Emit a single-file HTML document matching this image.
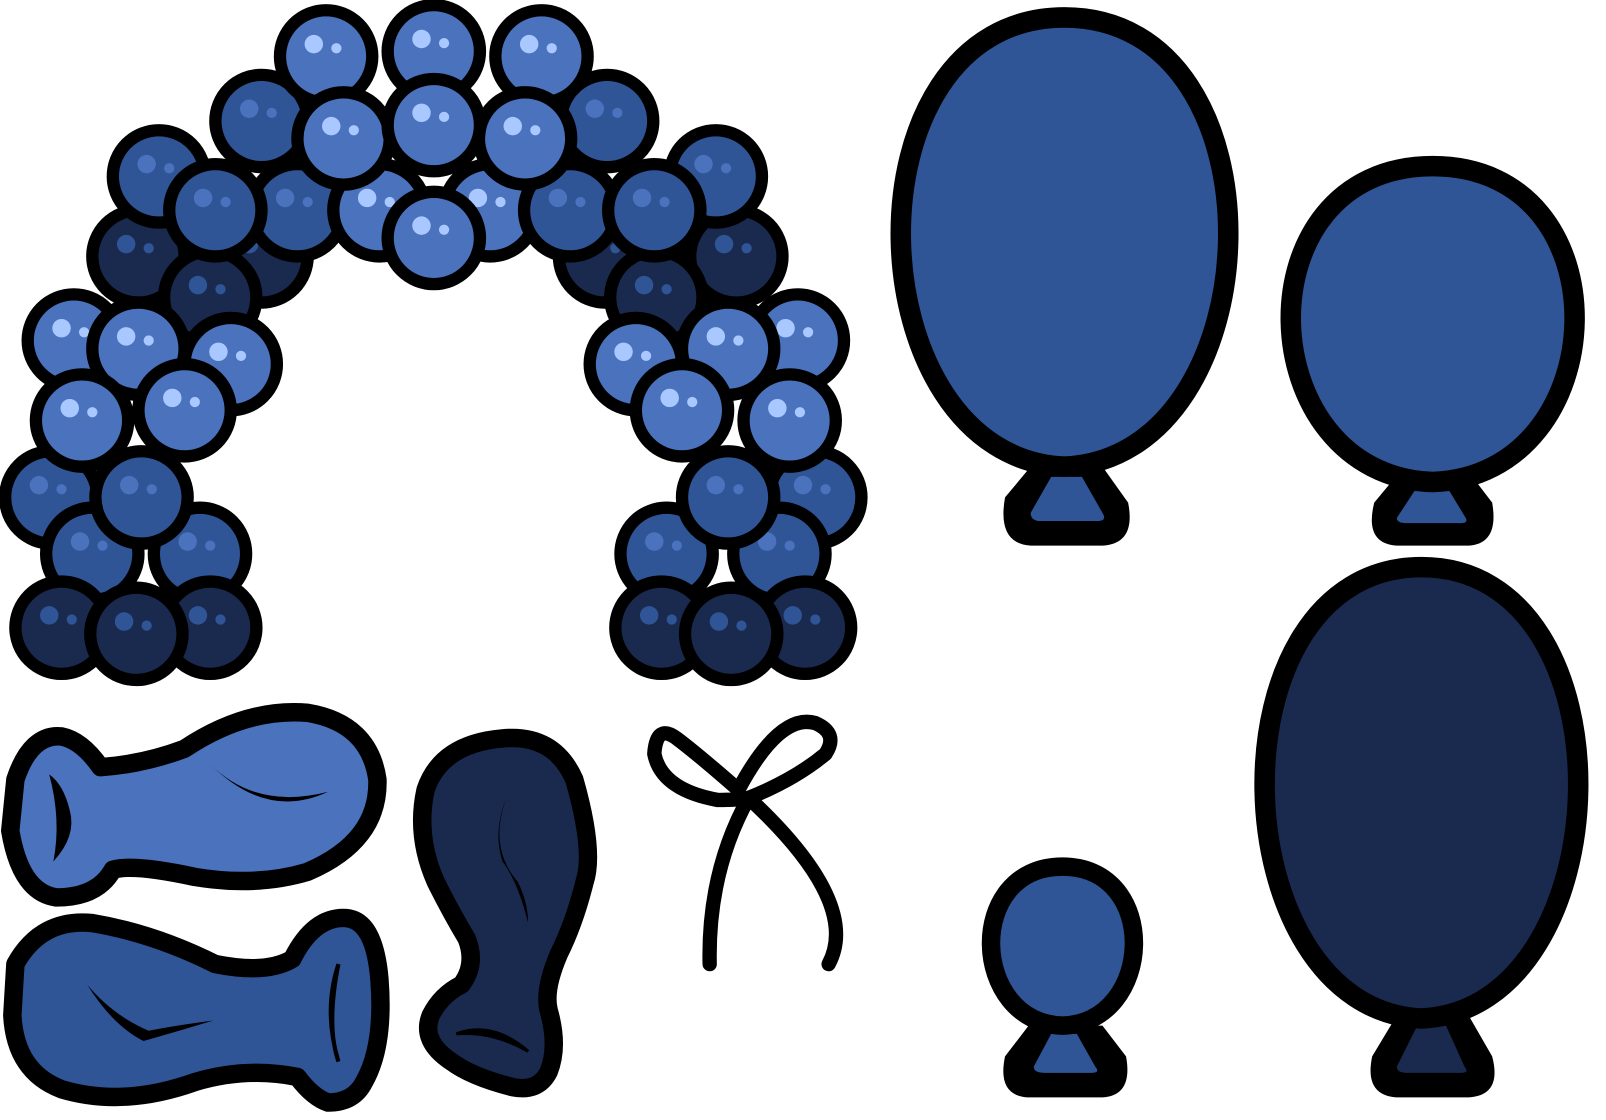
<!DOCTYPE html>
<html><head><meta charset="utf-8"><style>
html,body{margin:0;padding:0;background:#fff;width:1606px;height:1120px;overflow:hidden}
svg{display:block}
</style></head><body>
<svg id="art" width="1606" height="1120" viewBox="0 0 1566 1092" preserveAspectRatio="none">
<g id="arch"></g>

<g>
<path d="M1005,455 L980,485 Q972,530 1005,532 L1075,532 Q1108,530 1100,490 L1075,455 Z" fill="#000"/>
<path d="M1025,465 L1005,500 Q1005,508 1015,508 L1070,508 Q1080,508 1075,500 L1055,465 Z" fill="#2f5597"/>
<path id="egg1" fill="#2f5597" stroke="#000" stroke-width="20"/>
</g>
<g>
<path d="M1365,460 L1340,490 Q1330,530 1362,532 L1432,532 Q1462,530 1455,490 L1432,460 Z" fill="#000"/>
<path d="M1385,470 L1362,505 Q1362,510 1372,510 L1425,510 Q1433,510 1428,503 L1408,470 Z" fill="#2f5597"/>
<path id="egg2" fill="#2f5597" stroke="#000" stroke-width="20"/>
</g>
<g>
<path d="M1362,990 L1338,1030 Q1330,1068 1362,1070 L1432,1070 Q1465,1068 1455,1030 L1432,990 Z" fill="#000"/>
<path d="M1382,1000 L1362,1040 Q1362,1046 1372,1046 L1425,1046 Q1433,1046 1428,1040 L1410,1000 Z" fill="#1a2a4f"/>
<path id="egg3" fill="#1a2a4f" stroke="#000" stroke-width="20"/>
</g>
<g>
<path d="M1003,1000 L980,1030 Q972,1068 1002,1070 L1075,1070 Q1105,1068 1098,1030 L1075,1000 Z" fill="#000"/>
<path d="M1025,1008 L1008,1040 Q1008,1046 1018,1046 L1065,1046 Q1073,1046 1068,1040 L1050,1008 Z" fill="#2f5597"/>
<path id="egg4" fill="#2f5597" stroke="#000" stroke-width="18"/>
</g>

<g>
<path d="M15,760 Q30,715 60,718 Q80,722 98,748 Q140,745 180,730 Q240,690 300,695 Q360,705 368,760 Q370,820 300,850 Q250,865 190,855 Q130,842 110,848 Q95,875 55,875 Q20,870 10,810 Z" fill="#4a72bd" stroke="#000" stroke-width="18" stroke-linejoin="round"/>
<path d="M48,755 Q60,800 52,840 Q75,815 68,790 Q62,765 48,755 Z" fill="#000"/>
<path d="M205,745 Q250,790 320,772 Q260,800 205,745 Z" fill="#000"/>
</g>
<g>
<path d="M15,940 Q40,895 90,900 Q150,910 210,940 Q260,950 285,935 Q305,895 335,895 Q365,895 370,955 Q375,1020 355,1055 Q345,1075 320,1075 Q305,1070 290,1050 Q240,1040 190,1055 Q120,1080 60,1062 Q15,1045 12,990 Z" fill="#2f5597" stroke="#000" stroke-width="18" stroke-linejoin="round"/>
<path d="M85,960 Q110,1000 140,1015 Q175,1005 208,995 Q170,1000 145,1005 Q110,990 85,960 Z" fill="#000"/>
<path d="M330,940 Q315,985 330,1035 Q318,1000 330,940 Z" fill="#000" stroke="#000" stroke-width="4"/>
</g>
<g>
<path d="M415,770 Q430,725 490,720 Q540,715 560,760 Q580,830 570,860 Q560,900 545,930 Q530,965 535,985 Q545,1020 535,1045 Q525,1065 500,1060 Q460,1050 440,1035 Q410,1015 420,990 Q430,970 450,960 Q465,940 455,915 Q440,890 425,860 Q405,815 415,770 Z" fill="#1a2a4f" stroke="#000" stroke-width="18" stroke-linejoin="round"/>
<path d="M495,775 Q475,825 505,860 Q515,880 515,900 Q505,860 490,840 Q480,810 495,775 Z" fill="#000"/>
<path d="M445,1008 Q480,995 515,1025 Q480,1005 445,1008 Z" fill="#000" stroke="#000" stroke-width="3"/>
</g>

<g fill="none" stroke="#000" stroke-width="14" stroke-linecap="round" stroke-linejoin="round">
<path d="M720,770 Q680,735 660,720 Q640,705 638,735 Q645,770 700,780 Q720,780 730,778 Q775,760 805,735 Q818,715 795,705 Q760,695 720,770 Z"/>
<path d="M730,778 Q690,850 692,940"/>
<path d="M730,778 Q840,880 808,940"/>
</g>

<script>
function egg(id,cx,t,b,rx){
  var h=b-t;
  var d='M'+cx+','+t+' C'+(cx+1.33*rx)+','+t+' '+(cx+1.25*rx)+','+(b-0.02*h)+' '+cx+','+b+
        ' C'+(cx-1.25*rx)+','+(b-0.02*h)+' '+(cx-1.33*rx)+','+t+' '+cx+','+t+' Z';
  document.getElementById(id).setAttribute('d',d);
}
egg('egg1',1038,17,455,165);
egg('egg2',1397,162,470,143);
egg('egg3',1386,553,993,158);
egg('egg4',1036,845,1000,72);

var L='#4a72bd',M='#2f5597',D='#1a2a4f';
var arch=[
[135,250,D],[255,250,D],[205,290,D],[718,250,D],[590,250,D],[640,290,D],
[155,172,M],[255,118,M],[592,118,M],[698,172,M],
[318,55,L],[528,55,L],[423,50,L],
[290,205,M],[370,205,L],[478,205,L],[556,205,M],[423,232,L],
[335,135,L],[512,135,L],[423,122,L],
[210,205,M],[638,205,M],
[72,332,L],[778,332,L],[225,355,L],[620,355,L],[135,340,L],[710,340,L],
[50,485,M],[795,485,M],[80,410,L],[180,400,L],[665,400,L],[770,410,L],
[90,540,M],[195,540,M],[650,540,M],[760,540,M],
[138,485,M],[710,485,M],
[60,612,D],[205,612,D],[645,612,D],[785,612,D],[133,618,D],[713,618,D]
];
var g=document.getElementById('arch'),ns='http://www.w3.org/2000/svg';
var hl={};hl[L]='#a9c8ff';hl[M]='#4a72bd';hl[D]='#2f5597';
arch.forEach(function(b){
  var grp=document.createElementNS(ns,'g');
  
  
  var c=document.createElementNS(ns,'circle');
  c.setAttribute('cx',b[0]);c.setAttribute('cy',b[1]);c.setAttribute('r',45);
  c.setAttribute('fill',b[2]);c.setAttribute('stroke','#000');c.setAttribute('stroke-width',12);
  grp.appendChild(c);
  var h=document.createElementNS(ns,'circle');
  h.setAttribute('cx',b[0]-12);h.setAttribute('cy',b[1]-12);h.setAttribute('r',9);h.setAttribute('fill',hl[b[2]]);
  grp.appendChild(h);
  var h2=document.createElementNS(ns,'circle');
  h2.setAttribute('cx',b[0]+10);h2.setAttribute('cy',b[1]-8);h2.setAttribute('r',5);h2.setAttribute('fill',hl[b[2]]);
  grp.appendChild(h2);
  g.appendChild(grp);
});
</script>
</svg>
</body></html>
